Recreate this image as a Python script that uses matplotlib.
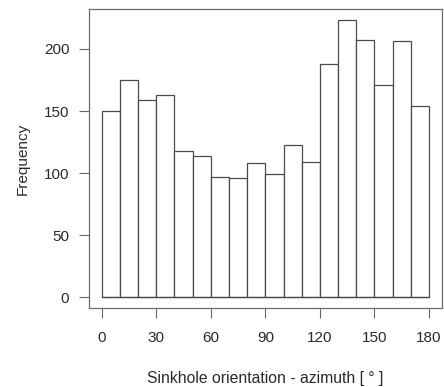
import matplotlib
matplotlib.use("Agg")
import matplotlib.pyplot as plt
import numpy as np

bin_edges = list(range(0, 190, 10))
counts = [150, 175, 159, 163, 118, 114, 97, 96, 108, 99, 123, 109, 188, 223, 207, 171, 206, 154]
x_ticks = [0, 30, 60, 90, 120, 150, 180]
y_ticks = [0, 50, 100, 150, 200]

plt.rcParams['font.family'] = ['Liberation Sans', 'DejaVu Sans']

fig = plt.figure(figsize=(4.44, 3.87), dpi=100)
ax = fig.add_axes([88.7/444, 1-308.3/387, (442-88.7)/444, (308.3-9.3)/387])

centers = [(bin_edges[i] + bin_edges[i+1]) / 2 for i in range(len(counts))]
widths = [bin_edges[i+1] - bin_edges[i] for i in range(len(counts))]
ax.bar(centers, counts, width=widths, color='white', edgecolor='#4a4a4a', linewidth=0.9)
ax.plot([bin_edges[0], bin_edges[-1]], [0, 0], color='#4a4a4a', linewidth=0.9)

ax.set_xlim(-7.2, 187.2)
ax.set_ylim(-8.92, 231.92)
ax.set_xticks(x_ticks)
ax.set_yticks(y_ticks)
ax.tick_params(axis='x', direction='out', length=7.2, width=0.8, color='#666666', pad=9.5, labelsize=11, labelcolor='#2a2a2a')
ax.tick_params(axis='y', direction='out', length=7.0, width=0.8, color='#666666', pad=7, labelsize=11, labelcolor='#2a2a2a')
for s in ax.spines.values():
    s.set_color('#6a6a6a')
    s.set_linewidth(0.9)

ax.set_xlabel('Sinkhole orientation - azimuth [ ° ]', fontsize=11.3, color='#2a2a2a', labelpad=18.5)
ax.set_ylabel('Frequency', fontsize=11, color='#2a2a2a', labelpad=10)

fig.savefig('out.png', dpi=100)
